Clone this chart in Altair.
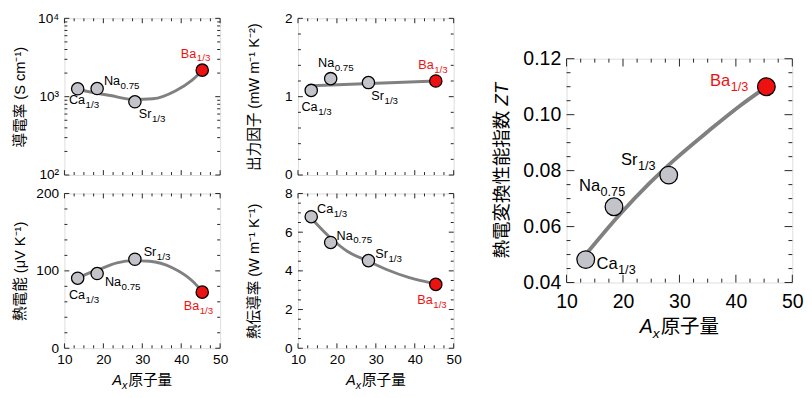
import altair as alt
import pandas as pd

FONT = "Liberation Sans, Arial, Noto Sans CJK JP, sans-serif"
GRAY_FILL = "#c3c4ca"
RED = "#ee1111"
LINE = "#808080"
FRAME = "#222222"

# ---------------- data ----------------
species = ["Ca", "Na", "Sr", "Ba"]
subs = ["1/3", "0.75", "1/3", "1/3"]
mass = [13.4, 18.4, 28.1, 45.4]

sigma = [1260, 1270, 860, 2180]          # S cm^-1
pf = [1.08, 1.23, 1.18, 1.20]            # mW m^-1 K^-2
seebeck = [90.5, 96.5, 115.0, 72.5]      # uV K^-1
kappa = [6.80, 5.47, 4.53, 3.30]         # W m^-1 K^-1
zt = [0.0482, 0.0671, 0.0784, 0.1100]

sigma_fit_x = [13.4, 15.1, 21.8, 27.7, 32.7, 38.6, 42.8, 45.4]
sigma_fit_y = [1250, 1190, 1035, 922, 940, 1190, 1630, 2150]
pf_fit_x = [13.4, 45.4]
pf_fit_y = [1.14, 1.20]
seebeck_fit_x = [13.4, 14.7, 19.3, 23.5, 27.7, 31.9, 37.7, 42.8, 45.4]
seebeck_fit_y = [90.0, 93.5, 102.7, 110.3, 113.2, 112.4, 104.0, 87.2, 73.4]
kappa_fit_x = [13.4, 18.6, 22.75, 28.2, 32.75, 38.6, 44.8, 45.4]
kappa_fit_y = [6.72, 5.66, 5.00, 4.49, 4.07, 3.65, 3.35, 3.32]
zt_fit_x = [13.6, 19.5, 24.7, 29.3, 35.05, 40.8, 45.1]
zt_fit_y = [0.0505, 0.0645, 0.0755, 0.0842, 0.0940, 0.1033, 0.1095]

x_major = [10, 20, 30, 40, 50]
x_minor = [12.5, 15, 17.5, 22.5, 25, 27.5, 32.5, 35, 37.5, 42.5, 45, 47.5]

# label offsets (pixels from point centre: left edge of text, baseline)
offs_sigma = [(-9, 16), (7, -4), (4, 17), (-22, -13)]
offs_pf = [(-10, 21), (-13, -12), (3, 18), (-18, -12)]
offs_seebeck = [(-9, 21), (8, 13), (9, -3), (-19, 18)]
offs_kappa = [(6, -4), (6, -3), (7, -3), (-19, 20)]
offs_zt = [(11, 10), (-36, -16), (-49, -10), (-58, -1)]

CHAR_W = {"C": 0.722, "a": 0.556, "N": 0.722, "S": 0.667, "r": 0.333, "B": 0.667}


def text_width(s, fs):
    return sum(CHAR_W.get(c, 0.6) for c in s) * fs


def panel(vals, fx, fy, ydom, ytype, y_major, y_minor, y_label_vals, ytitle,
          offs, W, H, big=False, xlabels=True, ylabel_expr=None, yfmt=None):
    fs_tick = 20 if big else 14
    fs_ytitle = 19 if big else 15
    fs_lab = 17 if big else 13
    fs_sub = 13 if big else 10
    sub_drop = 5 if big else 4
    maj_len = 8 if big else 5
    min_len = 4 if big else 3
    psize = 330 if big else 160
    lw = 4 if big else 3

    xsc = alt.Scale(domain=[10, 50], nice=False, zero=False)
    if ytype == "log":
        ysc = alt.Scale(domain=ydom, type="log", nice=False)
    else:
        ysc = alt.Scale(domain=ydom, nice=False, zero=False)

    if xlabels:
        xaxis = alt.Axis(values=x_major, ticks=False, domain=False, grid=False,
                         labelFont=FONT, labelFontSize=fs_tick, labelColor="black",
                         labelPadding=10 if big else 5, labelFlush=False, title=None)
    else:
        xaxis = None
    yargs = dict(values=y_label_vals, ticks=False, domain=False, grid=False,
                 labelFont=FONT, labelFontSize=fs_tick, labelColor="black",
                 labelPadding=6, labelFlush=False, labelOverlap=False)
    if big:
        yargs["title"] = None
    else:
        yargs.update(title=ytitle, titleFont=FONT, titleFontSize=fs_ytitle,
                     titleFontWeight="normal", titleColor="black", titleX=-38)
    if ylabel_expr:
        yargs["labelExpr"] = ylabel_expr
    if yfmt:
        yargs["format"] = yfmt
    yaxis = alt.Axis(**yargs)

    def X(f):
        return alt.X(f, scale=xsc, axis=xaxis)

    def Y(f):
        return alt.Y(f, scale=ysc, axis=yaxis)

    fit_df = pd.DataFrame({"x": fx, "y": fy})
    df = pd.DataFrame({"x": mass, "y": vals, "sp": species, "sub": subs})

    layers = []
    layers.append(
        alt.Chart(fit_df).mark_line(color=LINE, strokeWidth=lw, interpolate="monotone")
        .encode(x=X("x:Q"), y=Y("y:Q"))
    )
    layers.append(
        alt.Chart(df).mark_circle(size=psize, stroke="black", strokeWidth=1.3, opacity=1)
        .encode(x=X("x:Q"), y=Y("y:Q"),
                fill=alt.Fill("sp:N", scale=alt.Scale(domain=species,
                              range=[GRAY_FILL, GRAY_FILL, GRAY_FILL, RED]), legend=None))
    )
    for i in range(4):
        row = df.iloc[[i]]
        col = RED if species[i] == "Ba" else "black"
        dx, dy = offs[i]
        layers.append(
            alt.Chart(row).mark_text(align="left", baseline="alphabetic", dx=dx, dy=dy,
                                     font=FONT, fontSize=fs_lab, color=col)
            .encode(x=X("x:Q"), y=Y("y:Q"), text="sp:N")
        )
        layers.append(
            alt.Chart(row).mark_text(align="left", baseline="alphabetic",
                                     dx=dx + text_width(species[i], fs_lab) + 0.5,
                                     dy=dy + sub_drop,
                                     font=FONT, fontSize=fs_sub, color=col)
            .encode(x=X("x:Q"), y=Y("y:Q"), text="sub:N")
        )

    # inward tick marks on all four sides
    for vals_t, ln in ((x_major, maj_len), (x_minor, min_len)):
        tdf = pd.DataFrame({"x": vals_t})
        layers.append(alt.Chart(tdf).mark_rule(color=FRAME, strokeWidth=1)
                      .encode(x=X("x:Q"), y=alt.value(H), y2=alt.value(H - ln)))
        layers.append(alt.Chart(tdf).mark_rule(color=FRAME, strokeWidth=1)
                      .encode(x=X("x:Q"), y=alt.value(0), y2=alt.value(ln)))
    for vals_t, ln in ((y_major, maj_len), (y_minor, min_len)):
        tdf = pd.DataFrame({"y": vals_t})
        layers.append(alt.Chart(tdf).mark_rule(color=FRAME, strokeWidth=1)
                      .encode(y=Y("y:Q"), x=alt.value(0), x2=alt.value(ln)))
        layers.append(alt.Chart(tdf).mark_rule(color=FRAME, strokeWidth=1)
                      .encode(y=Y("y:Q"), x=alt.value(W), x2=alt.value(W - ln)))

    # x title: italic A with italic subscript x, then 原子量
    if xlabels:
        fa = 20 if big else 15
        fsx = 14 if big else 11
        base = H + (52 if big else 38)
        total = 0.667 * fa + 0.5 * fsx + 3 * fa + 1
        start = W / 2 - total / 2
        tdf = pd.DataFrame({"t": ["A"]})
        layers.append(alt.Chart(tdf).mark_text(align="left", baseline="alphabetic", font=FONT,
                                               fontSize=fa, fontStyle="italic", color="black")
                      .encode(x=alt.value(start), y=alt.value(base), text="t:N"))
        tdf2 = pd.DataFrame({"t": ["x"]})
        layers.append(alt.Chart(tdf2).mark_text(align="left", baseline="alphabetic", font=FONT,
                                                fontSize=fsx, fontStyle="italic", color="black")
                      .encode(x=alt.value(start + 0.667 * fa), y=alt.value(base + (5 if big else 4)),
                              text="t:N"))
        tdf3 = pd.DataFrame({"t": ["原子量"]})
        layers.append(alt.Chart(tdf3).mark_text(align="left", baseline="alphabetic", font=FONT,
                                                fontSize=fa, color="black")
                      .encode(x=alt.value(start + 0.667 * fa + 0.5 * fsx + 1), y=alt.value(base),
                              text="t:N"))
    if big:
        # rotated y title with italic ZT
        cjk, it = ytitle
        fsz = fs_ytitle
        total = len(cjk) * fsz + 0.278 * fsz + 1.222 * fsz
        y0 = H / 2 + total / 2
        tdf5 = pd.DataFrame({"t": [cjk]})
        layers.append(alt.Chart(tdf5).mark_text(align="left", baseline="bottom", angle=270,
                                                font=FONT, fontSize=fsz, color="black")
                      .encode(x=alt.value(-56), y=alt.value(y0), text="t:N"))
        tdf6 = pd.DataFrame({"t": [it]})
        layers.append(alt.Chart(tdf6).mark_text(align="left", baseline="bottom", angle=270,
                                                font=FONT, fontSize=fsz, fontStyle="italic",
                                                color="black")
                      .encode(x=alt.value(-56), y=alt.value(y0 - len(cjk) * fsz - 0.278 * fsz),
                              text="t:N"))
        # invisible spacer below the big panel so that vertical centring lifts it a little
        tdf4 = pd.DataFrame({"t": ["."]})
        layers.append(alt.Chart(tdf4).mark_text(baseline="bottom", fontSize=10, opacity=0)
                      .encode(x=alt.value(W / 2), y=alt.value(H + 70), text="t:N"))

    return alt.layer(*layers).properties(width=W, height=H)


sig_minor = [200, 300, 400, 500, 600, 700, 800, 900, 2000, 3000, 4000, 5000, 6000, 7000, 8000, 9000]
p1 = panel(sigma, sigma_fit_x, sigma_fit_y, [100, 10000], "log", [100, 1000, 10000], sig_minor,
           [100, 1000, 10000], "導電率 (S cm⁻¹)", offs_sigma, 160, 161, xlabels=False,
           ylabel_expr="datum.value == 100 ? '10²' : (datum.value == 1000 ? '10³' : '10⁴')")
p2 = panel(pf, pf_fit_x, pf_fit_y, [0, 2], "linear", [0, 1, 2],
           [0.2, 0.4, 0.6, 0.8, 1.2, 1.4, 1.6, 1.8], [0, 1, 2],
           "出力因子 (mW m⁻¹ K⁻²)", offs_pf, 160, 161, xlabels=False,
           ylabel_expr="'' + round(datum.value)")
p3 = panel(seebeck, seebeck_fit_x, seebeck_fit_y, [0, 200], "linear", [0, 100, 200],
           [20, 40, 60, 80, 120, 140, 160, 180], [0, 100, 200],
           "熱電能 (μV K⁻¹)", offs_seebeck, 160, 159)
p4 = panel(kappa, kappa_fit_x, kappa_fit_y, [0, 8], "linear", [0, 2, 4, 6, 8],
           [0.5, 1, 1.5, 2.5, 3, 3.5, 4.5, 5, 5.5, 6.5, 7, 7.5], [0, 2, 4, 6, 8],
           "熱伝導率 (W m⁻¹ K⁻¹)", offs_kappa, 160, 159)
p5 = panel(zt, zt_fit_x, zt_fit_y, [0.04, 0.12], "linear", [0.04, 0.06, 0.08, 0.10, 0.12],
           [0.045, 0.05, 0.055, 0.065, 0.07, 0.075, 0.085, 0.09, 0.095, 0.105, 0.11, 0.115],
           [0.04, 0.06, 0.08, 0.10, 0.12], ("熱電変換性能指数", "ZT"), offs_zt, 232, 230,
           big=True, yfmt=".2f")

left = alt.concat(p1, p2, p3, p4, columns=2, spacing={"row": 3, "column": 17})
chart = (alt.hconcat(left, p5, spacing=31, center=True)
         .properties(padding={"left": 4, "top": -3, "right": 0, "bottom": 0})
         .configure_view(stroke=FRAME, strokeWidth=1)
         .configure(font=FONT))

chart.save("out.html", embed_options={"renderer": "svg", "actions": False})
